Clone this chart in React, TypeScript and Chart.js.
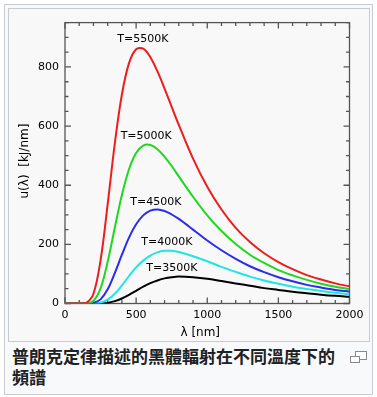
import React, { useEffect, useRef } from "react";
import { Chart, registerables } from "chart.js";

Chart.register(...registerables);

// wavelength samples (nm)
const wavelengths = [0, 100, 150, 200, 250, 300, 350, 400, 450, 500, 550, 600, 650, 700, 750, 800, 900, 1000, 1100, 1200, 1300, 1400, 1500, 1600, 1700, 1800, 1900, 2000];

// u(λ) [kJ/nm]
const u5500 = [0, 0, 2, 33, 146, 336, 541, 707, 813, 860, 862, 833, 785, 727, 665, 604, 490, 395, 318, 256, 208, 170, 140, 116, 96, 81, 68, 58];
const u5000 = [0, 0, 0, 9, 51, 141, 256, 367, 454, 509, 534, 536, 522, 496, 465, 430, 361, 298, 245, 201, 165, 137, 113, 95, 80, 67, 57, 49];
const u4500 = [0, 0, 0, 2, 14, 48, 103, 165, 223, 268, 298, 314, 318, 313, 301, 286, 250, 213, 180, 151, 126, 106, 89, 75, 63, 54, 46, 40];
const u4000 = [0, 0, 0, 0, 3, 13, 33, 61, 93, 122, 145, 162, 173, 178, 178, 174, 160, 143, 124, 107, 91, 78, 67, 57, 49, 42, 36, 31];
const u3500 = [0, 0, 0, 0, 0, 2, 8, 17, 29, 43, 57, 69, 78, 85, 89, 91, 89, 84, 76, 68, 60, 52, 46, 40, 35, 30, 26, 23];

const seriesLabels = ["T=5500K", "T=5000K", "T=4500K", "T=4000K", "T=3500K"];
const seriesValues = [u5500, u5000, u4500, u4000, u3500];
const seriesColors = ["#ee1c1c", "#1ed81e", "#2b2bee", "#1ee6e6", "#000000"];

// curve label anchors (data units)
const labelLambda = [547, 571, 639, 716, 751];
const labelValue = [895, 566, 343, 208, 118];

const xMin = 0;
const xMax = 2000;
const xMajor = 500;
const xMinor = 100;
const yMin = 0;
const yMax = 950;
const yMajor = 200;
const yMinor = 50;

const xTitle = "λ [nm]";
const yTitle = "u(λ)  [kJ/nm]";
const caption = "普朗克定律描述的黑體輻射在不同溫度下的頻譜";

const FONT = '"DejaVu Sans", sans-serif';

const framePlugin = {
  id: "frameTicks",
  beforeDatasetsDraw(chart: any) {
    const { ctx, chartArea: a, scales } = chart;
    const x = scales.x;
    const y = scales.y;
    ctx.save();
    ctx.strokeStyle = "#555555";
    ctx.lineWidth = 1.3;
    ctx.beginPath();
    for (let v = xMin; v <= xMax; v += xMinor) {
      const px = x.getPixelForValue(v);
      const len = v % xMajor === 0 ? 6 : 3.5;
      ctx.moveTo(px, a.bottom);
      ctx.lineTo(px, a.bottom - len);
      ctx.moveTo(px, a.top);
      ctx.lineTo(px, a.top + len);
    }
    for (let v = yMin; v <= yMax; v += yMinor) {
      const py = y.getPixelForValue(v);
      const len = v % yMajor === 0 ? 6 : 3.5;
      ctx.moveTo(a.left, py);
      ctx.lineTo(a.left + len, py);
      ctx.moveTo(a.right, py);
      ctx.lineTo(a.right - len, py);
    }
    ctx.stroke();
    ctx.strokeRect(a.left, a.top, a.right - a.left, a.bottom - a.top);
    ctx.restore();
  },
  afterDatasetsDraw(chart: any) {
    const { ctx, chartArea: a, scales } = chart;
    const x = scales.x;
    const y = scales.y;
    ctx.save();
    ctx.fillStyle = "#000";
    ctx.font = "11px " + FONT;
    ctx.textAlign = "center";
    ctx.textBaseline = "middle";
    seriesLabels.forEach((t, i) => {
      ctx.fillText(t, x.getPixelForValue(labelLambda[i]), y.getPixelForValue(labelValue[i]));
    });
    // axis titles
    ctx.font = "12px " + FONT;
    ctx.fillText(xTitle, (a.left + a.right) / 2 - 7, a.bottom + 29.5);
    ctx.translate(14.5, (a.top + a.bottom) / 2 - 2);
    ctx.rotate(-Math.PI / 2);
    ctx.fillText(yTitle, 0, 0);
    ctx.restore();
  },
};

function PlanckChart() {
  const ref = useRef<HTMLCanvasElement | null>(null);
  useEffect(() => {
    if (!ref.current) return;
    const chart = new Chart(ref.current, {
      type: "line",
      data: {
        datasets: seriesValues.map((vals, i) => ({
          label: seriesLabels[i],
          data: wavelengths.map((w, j) => ({ x: w, y: vals[j] })),
          borderColor: seriesColors[i],
          backgroundColor: seriesColors[i],
          borderWidth: 2,
          pointRadius: 0,
          fill: false,
          tension: 0.35,
        })),
      },
      options: {
        responsive: false,
        animation: false,
        devicePixelRatio: 1,
        elements: { line: { capBezierPoints: true } },
        layout: { padding: { top: 9.5, right: 20.5, left: 0, bottom: 0 } },
        plugins: { legend: { display: false }, tooltip: { enabled: false } },
        scales: {
          x: {
            type: "linear",
            min: xMin,
            max: xMax,
            grid: { display: false, drawTicks: false },
            border: { display: false },
            ticks: {
              stepSize: xMajor,
              color: "#000",
              font: { family: FONT, size: 11 },
              padding: 5,
              maxRotation: 0,
              autoSkip: false,
              callback: (v: any) => String(v),
            },
            afterFit: (s: any) => {
              s.height = 38.5;
            },
          },
          y: {
            type: "linear",
            min: yMin,
            max: yMax,
            grid: { display: false, drawTicks: false },
            border: { display: false },
            ticks: {
              stepSize: yMajor,
              includeBounds: false,
              color: "#000",
              font: { family: FONT, size: 11 },
              padding: 6,
              callback: (v: any) => String(v),
            },
            afterFit: (s: any) => {
              s.width = 55;
            },
          },
        },
      },
      plugins: [framePlugin],
    });
    return () => chart.destroy();
  }, []);
  return <canvas ref={ref} width={360} height={332} style={{ position: "absolute", left: 1, top: 1, width: 360, height: 332 }} />;
}

export default function App() {
  return (
    <div
      style={{
        position: "absolute",
        left: 4,
        top: 4,
        width: 369,
        height: 391,
        boxSizing: "border-box",
        border: "1px solid #c8ccd1",
        background: "#f8f9fa",
      }}
    >
      <div
        style={{
          position: "absolute",
          left: 3,
          top: 3,
          width: 362,
          height: 334,
          boxSizing: "border-box",
          border: "1px solid #c8ccd1",
          background: "#f8f8f8",
        }}
      >
        <PlanckChart />
      </div>
      <div
        style={{
          position: "absolute",
          left: 7,
          top: 341,
          width: 332,
          fontFamily: '"Noto Sans CJK TC", sans-serif',
          fontWeight: 700,
          fontSize: 17,
          lineHeight: "20.5px",
          color: "#202122",
        }}
      >
        {caption}
      </div>
      <div style={{ position: "absolute", left: 345, top: 347, width: 17, height: 12 }}>
        <div
          style={{
            position: "absolute",
            left: 5,
            top: -1,
            width: 10,
            height: 7,
            border: "1px solid #8a8a8a",
            background: "#fff",
          }}
        />
        <div
          style={{
            position: "absolute",
            left: 0,
            top: 4,
            width: 8,
            height: 5,
            border: "1px solid #8a8a8a",
            background: "#fff",
          }}
        />
      </div>
    </div>
  );
}
